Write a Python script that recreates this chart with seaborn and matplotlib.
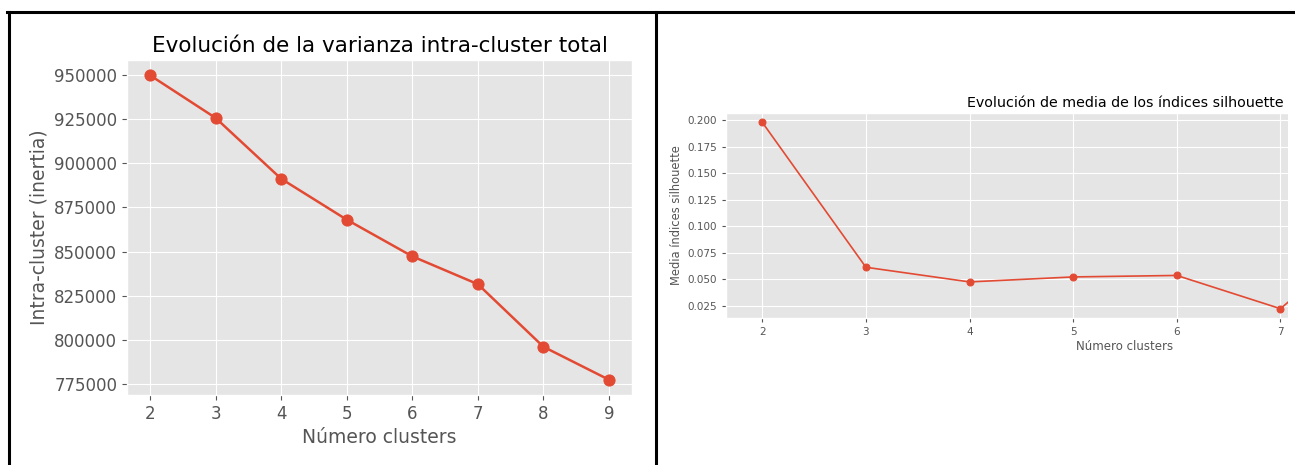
import numpy as np
import pandas as pd
import seaborn as sns
import matplotlib.pyplot as plt
from matplotlib.lines import Line2D
from matplotlib.patches import Rectangle

# Data
clusters = [2, 3, 4, 5, 6, 7, 8, 9]
inertia = [950000, 925800, 891300, 868100, 847300, 831500, 796000, 777300]
silhouette = [0.198, 0.0615, 0.0477, 0.0524, 0.0538, 0.0225, 0.106, 0.090]

RED = '#E24A33'
W, H = 1295, 465

plt.style.use('ggplot')
fig = plt.figure(figsize=(W / 100, H / 100), dpi=100)


def px_axes(left, top, right, bottom):
    # pixel box -> figure fraction
    return [left / W, 1 - bottom / H, (right - left) / W, (bottom - top) / H]


# Left chart: inertia
df_in = pd.DataFrame({'k': clusters, 'inertia': inertia})
ax1 = fig.add_axes(px_axes(127, 60, 632, 395))
sns.lineplot(data=df_in, x='k', y='inertia', ax=ax1, color=RED, marker='o',
             linewidth=1.8, markersize=8, markeredgecolor=RED)
ax1.set_xticks(clusters)
ax1.set_yticks(np.arange(775000, 950001, 25000))
ax1.ticklabel_format(axis='y', style='plain', useOffset=False)
ax1.tick_params(labelsize=12)
ax1.set_title('Evolución de la varianza intra-cluster total', fontsize=15.5, pad=6)
ax1.set_xlabel('Número clusters', fontsize=13.5)
ax1.set_ylabel('Intra-cluster (inertia)', fontsize=13.5)

# Right chart: silhouette (screenshot is cut at the right edge, after k=7)
df_sil = pd.DataFrame({'k': clusters, 'silhouette': silhouette})
ax2 = fig.add_axes(px_axes(726, 113, 1524, 318))
sns.lineplot(data=df_sil, x='k', y='silhouette', ax=ax2, color=RED, marker='o',
             linewidth=1.2, markersize=5, markeredgecolor=RED)
ax2.set_xticks(clusters[:6])
ax2.set_yticks(np.arange(0.025, 0.2001, 0.025))
ax2.tick_params(labelsize=7.5, length=3)
ax2.set_title('Evolución de media de los índices silhouette', fontsize=10.3, pad=4)
ax2.set_xlabel('Número clusters', fontsize=8.5, labelpad=2)
ax2.set_ylabel('Media índices silhouette', fontsize=8.3, labelpad=3)

# white margin where the screenshot ends
fig.add_artist(Rectangle((1288 / W, 0), 7 / W, 1 - 14 / H, transform=fig.transFigure,
                         facecolor='white', edgecolor='none', zorder=10))

# black table borders
lw = 2.2
fig.add_artist(Line2D([7 / W, 1], [1 - 12 / H, 1 - 12 / H], color='black', lw=lw, zorder=11))
fig.add_artist(Line2D([8.5 / W, 8.5 / W], [0, 1 - 12 / H], color='black', lw=lw, zorder=11))
fig.add_artist(Line2D([655.5 / W, 655.5 / W], [0, 1 - 12 / H], color='black', lw=lw, zorder=11))

plt.savefig('out.png', dpi=100)
plt.close()
